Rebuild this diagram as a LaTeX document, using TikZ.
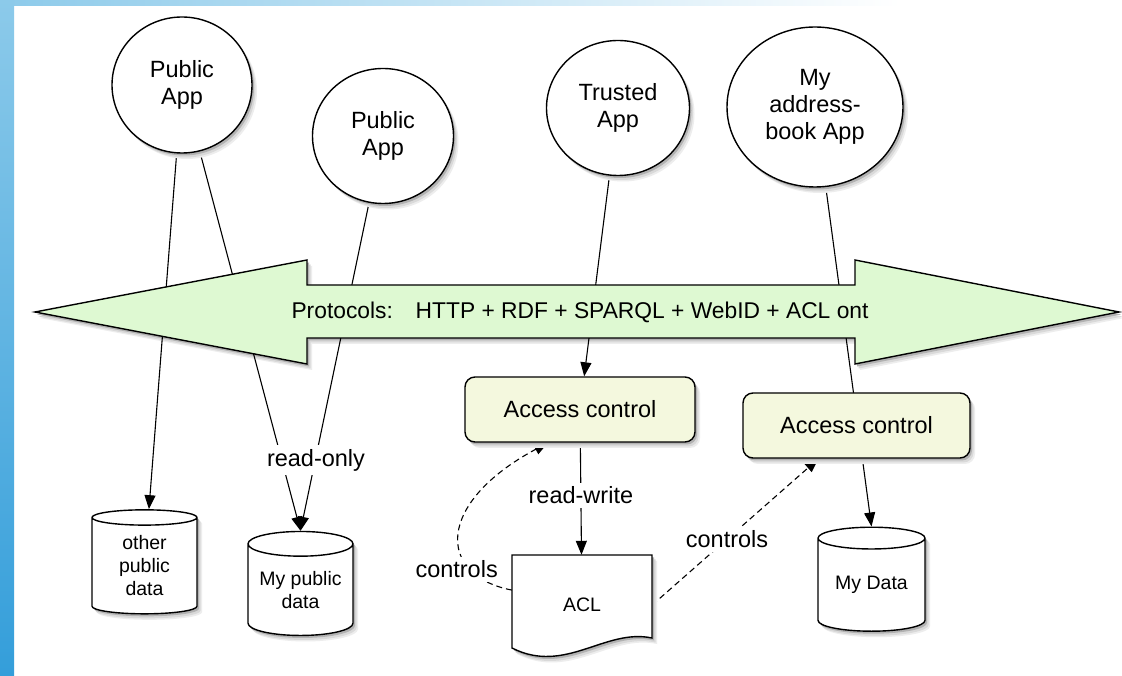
\documentclass[tikz,border=0pt]{standalone}
\usepackage{fontspec}
\setmainfont{Liberation Sans}
\usetikzlibrary{shapes.geometric,arrows.meta,shadows}
\definecolor{arrowgreen}{RGB}{222,249,210}
\definecolor{boxyellow}{RGB}{244,248,222}
\definecolor{stripblue}{RGB}{140,202,234}
\definecolor{stripdeep}{RGB}{52,158,218}
\pgfdeclarelayer{back}
\pgfdeclarelayer{shades}
\pgfdeclarelayer{edges}
\pgfsetlayers{back,shades,edges,main}
\begin{document}
\begin{tikzpicture}[x=1pt,y=1pt,
    softshadow/.style={
      drop shadow={shadow xshift=5pt,shadow yshift=-6pt,fill=black!7,opacity=1},
      drop shadow={shadow xshift=3.5pt,shadow yshift=-4.5pt,fill=black!15,opacity=1},
      drop shadow={shadow xshift=2pt,shadow yshift=-2.5pt,fill=black!30,opacity=1}},
    app/.style={ellipse,draw,line width=1.4pt,fill=white,inner sep=0pt,align=center,font=\fontsize{23.5}{27}\selectfont,softshadow},
    access/.style={rectangle,rounded corners=10pt,draw,line width=1.4pt,fill=boxyellow,minimum width=230pt,minimum height=65pt,font=\fontsize{23.5}{27}\selectfont,softshadow},
    store/.style={cylinder,shape border rotate=90,aspect=0.3,draw,line width=1.4pt,fill=white,minimum width=105pt,minimum height=104pt,inner sep=0pt,align=center,font=\fontsize{19.5}{23}\selectfont,softshadow},
    lbl/.style={fill=white,inner sep=4pt,font=\fontsize{23.5}{27}\selectfont}]
  \useasboundingbox (0,0) rectangle (1122,675);
  \begin{pgfonlayer}{back}
    \fill[white] (0,0) rectangle (1122,675);
    \shade[left color=stripblue,right color=white] (0,669) rectangle (900,675);
    \shade[top color=stripblue,bottom color=stripdeep] (0,0) rectangle (14,675);
  \end{pgfonlayer}
  \begin{pgfonlayer}{shades}
    \foreach \dx/\dy/\tone in {5/-6/7,3.5/-4.5/15,2/-2.5/30}
      \fill[black!\tone,xshift=\dx pt,yshift=\dy pt]
        (35,363) -- (307,415) -- (307,390) -- (855,390) -- (855,415) -- (1119,363)
        -- (855,311) -- (855,337) -- (307,337) -- (307,311) -- cycle;
  \end{pgfonlayer}
  \draw[line width=1.4pt,fill=arrowgreen]
    (35,363) -- (307,415) -- (307,390) -- (855,390) -- (855,415) -- (1119,363)
    -- (855,311) -- (855,337) -- (307,337) -- (307,311) -- cycle;
  \node[font=\fontsize{22.8}{26}\selectfont] (proto) at (580,363)
    {Protocols:\quad HTTP + RDF + SPARQL + WebID + ACL ont};
  \draw[line width=1.4pt,fill=white,softshadow]
    (512,120) -- (652,120) -- (652,37) .. controls (605,47) and (565,0) .. (512,27) -- cycle;
  \path
    (182,590) node[app,minimum width=140pt,minimum height=136pt] (pub1){Public\\App}
    (383,539) node[app,minimum width=141pt,minimum height=135pt] (pub2){Public\\App}
    (618,567) node[app,minimum width=143pt,minimum height=135pt] (trust){Trusted\\App}
    (815,568) node[app,minimum width=176pt,minimum height=160pt] (book){My\\address-\\book App}
    (580,265.5) node[access] (ac1){Access control}
    (856.5,249.5) node[access,minimum width=227pt] (ac2){Access control}
    (144.5,109) node[store] (other){other\\public\\data}
    (300.5,85) node[store] (mypub){My public\\data}
    (871.5,90) node[store,minimum width=107pt] (mydata){My Data}
    (582,70) node[font=\fontsize{19.5}{23}\selectfont,minimum width=140pt,minimum height=100pt] (acl){ACL};
  \node[lbl] (ronly) at (316,215) {read-only};
  \begin{pgfonlayer}{edges}
    \begin{scope}[line width=1.1pt,-{Triangle[length=14pt,width=11pt]}]
      \draw (pub1) to (other);
      \draw (pub1.-75) to (mypub.north);
      \draw (pub2) to (mypub.north);
      \draw (trust) to (ac1);
      \draw (book) to (mydata.north);
      \draw (ac1) to node[lbl,pos=0.47]{read-write} (acl);
      \draw[dash pattern=on 6pt off 4pt] (acl.168)
        .. controls +(-76,15) and +(-112,-60) .. ([xshift=-32pt]ac1.south)
        node[lbl,pos=0.25,xshift=-13pt]{controls};
      \draw[dash pattern=on 6pt off 4pt] (acl.east) to node[lbl,pos=0.45]{controls}
        ([xshift=-38pt]ac2.south);
    \end{scope}
  \end{pgfonlayer}
\end{tikzpicture}
\end{document}
